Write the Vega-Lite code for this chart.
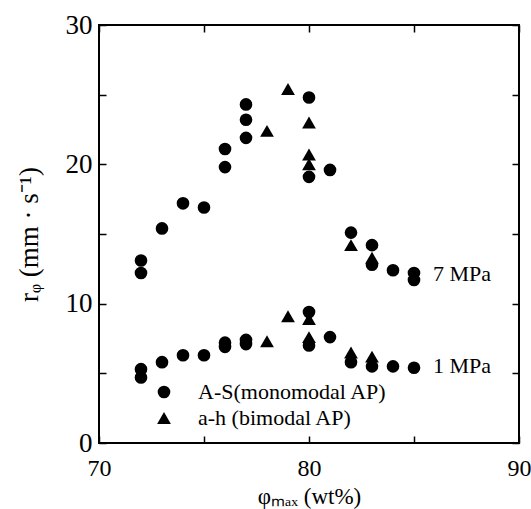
{
  "$schema": "https://vega.github.io/schema/vega-lite/v6.json",
  "width": 420,
  "height": 418,
  "autosize": {"type": "none"},
  "padding": {"left": 99, "top": 25, "right": 12, "bottom": 66},
  "background": "white",
  "config": {
    "view": {"stroke": "black", "strokeWidth": 2},
    "font": "Liberation Serif",
    "axis": {"grid": false, "domain": false, "tickColor": "black", "tickWidth": 1.5, "labelColor": "black", "titleColor": "black", "labelFont": "Liberation Serif", "titleFont": "Liberation Serif"}
  },
  "datasets": {
    "pts": [
      {"x": 72, "y": 13.1, "type": "A-S(monomodal AP)", "pressure": "7 MPa"},
      {"x": 72, "y": 12.2, "type": "A-S(monomodal AP)", "pressure": "7 MPa"},
      {"x": 73, "y": 15.4, "type": "A-S(monomodal AP)", "pressure": "7 MPa"},
      {"x": 74, "y": 17.2, "type": "A-S(monomodal AP)", "pressure": "7 MPa"},
      {"x": 75, "y": 16.9, "type": "A-S(monomodal AP)", "pressure": "7 MPa"},
      {"x": 76, "y": 21.1, "type": "A-S(monomodal AP)", "pressure": "7 MPa"},
      {"x": 76, "y": 19.8, "type": "A-S(monomodal AP)", "pressure": "7 MPa"},
      {"x": 77, "y": 24.3, "type": "A-S(monomodal AP)", "pressure": "7 MPa"},
      {"x": 77, "y": 23.2, "type": "A-S(monomodal AP)", "pressure": "7 MPa"},
      {"x": 77, "y": 21.9, "type": "A-S(monomodal AP)", "pressure": "7 MPa"},
      {"x": 80, "y": 24.8, "type": "A-S(monomodal AP)", "pressure": "7 MPa"},
      {"x": 80, "y": 19.1, "type": "A-S(monomodal AP)", "pressure": "7 MPa"},
      {"x": 81, "y": 19.6, "type": "A-S(monomodal AP)", "pressure": "7 MPa"},
      {"x": 82, "y": 15.1, "type": "A-S(monomodal AP)", "pressure": "7 MPa"},
      {"x": 83, "y": 14.2, "type": "A-S(monomodal AP)", "pressure": "7 MPa"},
      {"x": 83, "y": 12.8, "type": "A-S(monomodal AP)", "pressure": "7 MPa"},
      {"x": 84, "y": 12.4, "type": "A-S(monomodal AP)", "pressure": "7 MPa"},
      {"x": 85, "y": 12.2, "type": "A-S(monomodal AP)", "pressure": "7 MPa"},
      {"x": 85, "y": 11.7, "type": "A-S(monomodal AP)", "pressure": "7 MPa"},
      {"x": 79, "y": 25.4, "type": "a-h (bimodal AP)", "pressure": "7 MPa"},
      {"x": 78, "y": 22.4, "type": "a-h (bimodal AP)", "pressure": "7 MPa"},
      {"x": 80, "y": 23.0, "type": "a-h (bimodal AP)", "pressure": "7 MPa"},
      {"x": 80, "y": 20.7, "type": "a-h (bimodal AP)", "pressure": "7 MPa"},
      {"x": 80, "y": 20.0, "type": "a-h (bimodal AP)", "pressure": "7 MPa"},
      {"x": 82, "y": 14.2, "type": "a-h (bimodal AP)", "pressure": "7 MPa"},
      {"x": 83, "y": 13.3, "type": "a-h (bimodal AP)", "pressure": "7 MPa"},
      {"x": 72, "y": 5.3, "type": "A-S(monomodal AP)", "pressure": "1 MPa"},
      {"x": 72, "y": 4.7, "type": "A-S(monomodal AP)", "pressure": "1 MPa"},
      {"x": 73, "y": 5.8, "type": "A-S(monomodal AP)", "pressure": "1 MPa"},
      {"x": 74, "y": 6.3, "type": "A-S(monomodal AP)", "pressure": "1 MPa"},
      {"x": 75, "y": 6.3, "type": "A-S(monomodal AP)", "pressure": "1 MPa"},
      {"x": 76, "y": 7.2, "type": "A-S(monomodal AP)", "pressure": "1 MPa"},
      {"x": 76, "y": 6.9, "type": "A-S(monomodal AP)", "pressure": "1 MPa"},
      {"x": 77, "y": 7.4, "type": "A-S(monomodal AP)", "pressure": "1 MPa"},
      {"x": 77, "y": 7.1, "type": "A-S(monomodal AP)", "pressure": "1 MPa"},
      {"x": 80, "y": 9.4, "type": "A-S(monomodal AP)", "pressure": "1 MPa"},
      {"x": 80, "y": 7.0, "type": "A-S(monomodal AP)", "pressure": "1 MPa"},
      {"x": 81, "y": 7.6, "type": "A-S(monomodal AP)", "pressure": "1 MPa"},
      {"x": 82, "y": 5.8, "type": "A-S(monomodal AP)", "pressure": "1 MPa"},
      {"x": 83, "y": 5.5, "type": "A-S(monomodal AP)", "pressure": "1 MPa"},
      {"x": 84, "y": 5.5, "type": "A-S(monomodal AP)", "pressure": "1 MPa"},
      {"x": 85, "y": 5.4, "type": "A-S(monomodal AP)", "pressure": "1 MPa"},
      {"x": 79, "y": 9.1, "type": "a-h (bimodal AP)", "pressure": "1 MPa"},
      {"x": 78, "y": 7.3, "type": "a-h (bimodal AP)", "pressure": "1 MPa"},
      {"x": 80, "y": 8.9, "type": "a-h (bimodal AP)", "pressure": "1 MPa"},
      {"x": 80, "y": 7.6, "type": "a-h (bimodal AP)", "pressure": "1 MPa"},
      {"x": 82, "y": 6.5, "type": "a-h (bimodal AP)", "pressure": "1 MPa"},
      {"x": 83, "y": 6.2, "type": "a-h (bimodal AP)", "pressure": "1 MPa"}
    ],
    "labels": [
      {"x": 85.9, "y": 12.1, "label": "7 MPa"},
      {"x": 85.9, "y": 5.5, "label": "1 MPa"}
    ]
  },
  "layer": [
    {
      "data": {"name": "pts"},
      "mark": {"type": "point", "filled": true, "color": "black", "opacity": 1},
      "encoding": {
        "x": {"field": "x", "type": "quantitative", "scale": {"domain": [70, 90], "nice": false, "zero": false},
          "axis": {"orient": "bottom", "values": [70, 75, 80, 85, 90], "labelExpr": "datum.value % 10 == 0 ? datum.label : ''", "tickSize": -7, "labelPadding": 20, "labelFontSize": 24, "labelFlush": false, "title": "φₘₐₓ  (wt%)", "titleFontSize": 23, "titleFontWeight": "normal", "titlePadding": 5}},
        "y": {"field": "y", "type": "quantitative", "scale": {"domain": [0, 30], "nice": false},
          "axis": {"orient": "left", "values": [0, 5, 10, 15, 20, 25, 30], "labelExpr": "datum.value % 10 == 0 ? datum.label : ''", "tickSize": -7, "labelPadding": 14, "labelFontSize": 27, "labelFlush": false, "title": "rᵩ  (mm · s⁻¹)", "titleFontSize": 27, "titleFontWeight": "normal", "titlePadding": 22}},
        "shape": {"field": "type", "type": "nominal",
          "scale": {"domain": ["A-S(monomodal AP)", "a-h (bimodal AP)"], "range": ["circle", "triangle-up"]},
          "legend": {"orient": "none", "legendX": 54, "legendY": 356, "title": null, "padding": 0, "labelFontSize": 22, "labelLimit": 400, "labelFont": "Liberation Serif", "labelColor": "black", "symbolFillColor": "black", "symbolStrokeColor": "black", "labelOffset": 23, "rowPadding": 4}},
        "size": {"field": "type", "type": "nominal",
          "scale": {"domain": ["A-S(monomodal AP)", "a-h (bimodal AP)"], "range": [160, 190]},
          "legend": {"orient": "none", "legendX": 54, "legendY": 356, "title": null, "padding": 0, "labelFontSize": 22, "labelLimit": 400, "labelFont": "Liberation Serif", "labelColor": "black", "symbolFillColor": "black", "symbolStrokeColor": "black", "labelOffset": 23, "rowPadding": 4}}
      }
    },
    {
      "data": {"name": "labels"},
      "mark": {"type": "text", "align": "left", "baseline": "middle", "fontSize": 22, "font": "Liberation Serif", "color": "black"},
      "encoding": {
        "x": {"field": "x", "type": "quantitative", "axis": {"orient": "top", "values": [70, 75, 80, 85, 90], "labels": false, "tickSize": -7, "title": null}},
        "y": {"field": "y", "type": "quantitative", "axis": {"orient": "right", "values": [0, 5, 10, 15, 20, 25, 30], "labels": false, "tickSize": -7, "title": null}},
        "text": {"field": "label"}
      }
    }
  ]
}
